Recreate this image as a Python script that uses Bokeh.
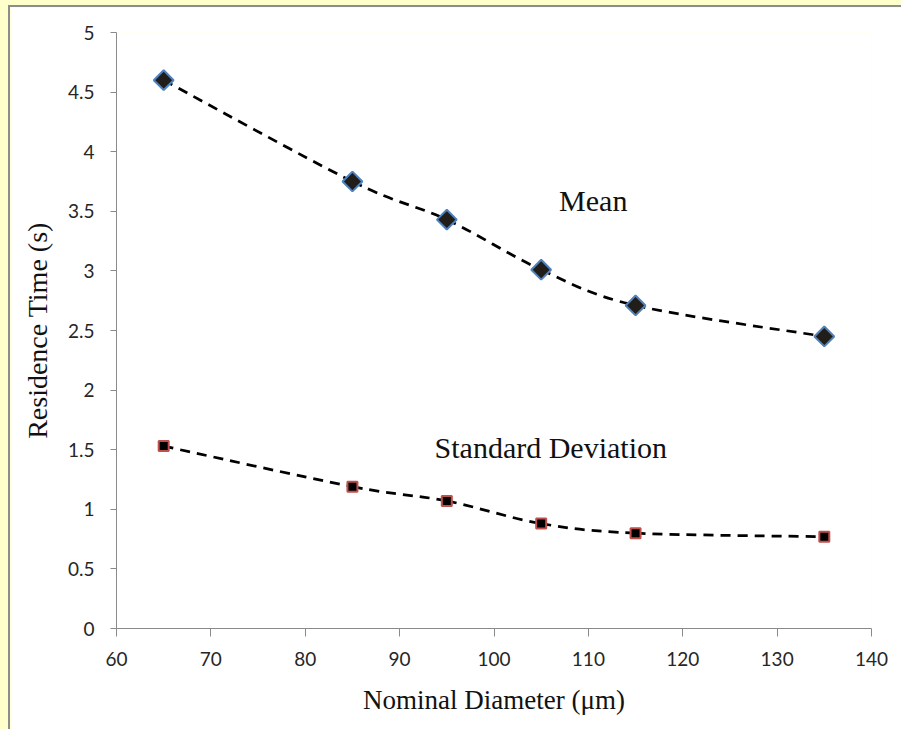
import numpy as np
from bokeh.plotting import figure
from bokeh.models import FixedTicker, Label, ColumnDataSource, Range1d
from bokeh.embed import file_html
from bokeh.resources import INLINE

# ---- data ----
diameter = [65, 85, 95, 105, 115, 135]
mean_time = [4.60, 3.75, 3.43, 3.01, 2.71, 2.45]
std_time = [1.53, 1.19, 1.07, 0.88, 0.80, 0.77]

x_ticks = [60, 70, 80, 90, 100, 110, 120, 130, 140]
y_ticks = [0, 0.5, 1, 1.5, 2, 2.5, 3, 3.5, 4, 4.5, 5]
y_tick_labels = ["0", "0.5", "1", "1.5", "2", "2.5", "3", "3.5", "4", "4.5", "5"]

x_label = "Nominal Diameter (\u03bcm)"
y_label = "Residence Time (s)"
mean_label = "Mean"
std_label = "Standard Deviation"

# ---- figure ----
p = figure(width=897, height=724, output_backend="svg", toolbar_location=None,
           x_range=Range1d(60, 140), y_range=Range1d(0, 5),
           min_border_left=106, min_border_right=36, min_border_top=25, min_border_bottom=103)
p.styles = {"outline": "2px solid #8c8c8c", "margin-left": "10px", "margin-top": "7px"}
p.background_fill_color = "white"
p.border_fill_color = "white"
p.outline_line_color = None
p.xgrid.visible = False
p.ygrid.visible = False

axis_col = "#8a8a8a"
for ax in (p.xaxis[0], p.yaxis[0]):
    ax.axis_line_color = axis_col
    ax.major_tick_line_color = axis_col
    ax.minor_tick_line_color = None
    ax.major_tick_in = 0
    ax.major_label_text_font = "Lato"
    ax.major_label_text_font_size = "19px"
    ax.major_label_text_color = "#262626"
    ax.axis_label_text_font = "Liberation Serif"
    ax.axis_label_text_font_style = "normal"
    ax.axis_label_text_color = "#111111"

p.xaxis.axis_label_text_font_size = "27px"
p.yaxis.axis_label_text_font_size = "28px"
p.xaxis.ticker = FixedTicker(ticks=x_ticks)
p.yaxis.ticker = FixedTicker(ticks=y_ticks)
p.yaxis.major_label_overrides = {t: l for t, l in zip(y_ticks, y_tick_labels)}
p.xaxis.major_tick_out = 8
p.yaxis.major_tick_out = 6
p.xaxis.major_label_standoff = 15
p.yaxis.major_label_standoff = 16
p.xaxis.axis_label = x_label
p.yaxis.axis_label = y_label
p.xaxis.axis_label_standoff = 16
p.yaxis.axis_label_standoff = 12


def smooth_segments(xs, ys):
    # Catmull-Rom style control points (smoothed line rendering)
    xs = np.asarray(xs, float)
    ys = np.asarray(ys, float)
    n = len(xs)
    px = np.concatenate([[xs[0]], xs, [xs[-1]]])
    py = np.concatenate([[ys[0]], ys, [ys[-1]]])
    d = dict(x0=[], y0=[], x1=[], y1=[], cx0=[], cy0=[], cx1=[], cy1=[])
    for i in range(n - 1):
        j = i + 1
        d["x0"].append(px[j]); d["y0"].append(py[j])
        d["x1"].append(px[j + 1]); d["y1"].append(py[j + 1])
        d["cx0"].append(px[j] + (px[j + 1] - px[j - 1]) / 6)
        d["cy0"].append(py[j] + (py[j + 1] - py[j - 1]) / 6)
        d["cx1"].append(px[j + 1] - (px[j + 2] - px[j]) / 6)
        d["cy1"].append(py[j + 1] - (py[j + 2] - py[j]) / 6)
    return ColumnDataSource(d)


for ys in (mean_time, std_time):
    src = smooth_segments(diameter, ys)
    p.bezier(x0="x0", y0="y0", x1="x1", y1="y1", cx0="cx0", cy0="cy0",
             cx1="cx1", cy1="cy1", source=src, line_color="black",
             line_width=2.75, line_dash="10 7")

p.scatter(diameter, mean_time, marker="square", angle=np.pi / 4, size=14,
          fill_color="#211e1a", line_color="#4f81bd", line_width=2)
p.scatter(diameter, std_time, marker="square", size=10,
          fill_color="black", line_color="#c0504d", line_width=2)

p.add_layout(Label(x=106.9, y=3.59, text=mean_label, text_font="Liberation Serif",
                   text_font_size="30px", text_baseline="middle", text_color="#111111"))
p.add_layout(Label(x=93.7, y=1.52, text=std_label, text_font="Liberation Serif",
                   text_font_size="30px", text_baseline="middle", text_color="#111111"))

open("out.html", "w").write(file_html(p, INLINE).replace(
    "</head>",
    "<style>html, body { background-color: #FFFFCC !important; overflow: hidden !important; }</style></head>",
    1))
